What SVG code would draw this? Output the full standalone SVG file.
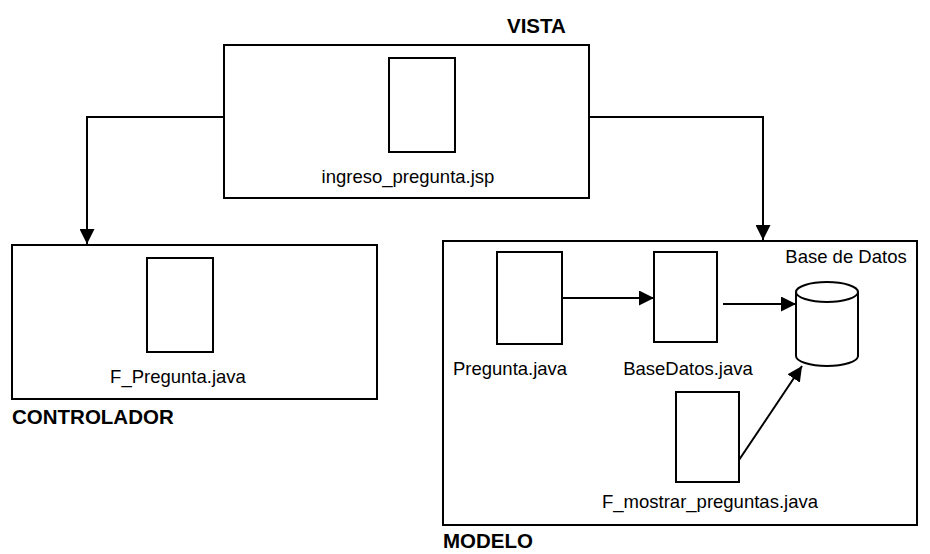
<svg xmlns="http://www.w3.org/2000/svg" width="930" height="554" viewBox="0 0 930 554">
<defs>
<marker id="ah" markerWidth="15" markerHeight="15" refX="15" refY="7.5" orient="auto" markerUnits="userSpaceOnUse">
<path d="M0,0 L15,7.5 L0,15 Z" fill="#000"/>
</marker>
<style>
.box{fill:#fff;stroke:#000;stroke-width:2}
.doc{fill:#fff;stroke:#000;stroke-width:2}
.lbl{font-family:"Liberation Sans",Arial,sans-serif;font-size:18.5px;fill:#000}
.ttl{font-family:"Liberation Sans",Arial,sans-serif;font-size:20.5px;font-weight:bold;fill:#000}
.con{fill:none;stroke:#000;stroke-width:2;marker-end:url(#ah)}
</style>
</defs>
<rect width="930" height="554" fill="#fff"/>
<g id="vista">
<rect class="box" x="224" y="45" width="365" height="153"/>
<rect class="doc" x="389" y="58" width="66" height="94"/>
<text class="lbl" x="408" y="183" text-anchor="middle">ingreso_pregunta.jsp</text>
<text class="ttl" x="507" y="33">VISTA</text>
</g>
<g id="controlador">
<rect class="box" x="12" y="245" width="365" height="154"/>
<rect class="doc" x="147" y="258" width="66" height="94"/>
<text class="lbl" x="178" y="383" text-anchor="middle">F_Pregunta.java</text>
<text class="ttl" x="12" y="424">CONTROLADOR</text>
</g>
<g id="modelo">
<rect class="box" x="443" y="241" width="474" height="284"/>
<text class="ttl" x="443" y="548">MODELO</text>
</g>
<g id="pregunta">
<rect class="doc" x="497" y="252" width="65" height="92"/>
<text class="lbl" x="453" y="375">Pregunta.java</text>
</g>
<g id="basedatos">
<rect class="doc" x="654" y="252" width="63" height="90"/>
<text class="lbl" x="688" y="375" text-anchor="middle">BaseDatos.java</text>
</g>
<g id="fmostrar">
<rect class="doc" x="676" y="392" width="63" height="90"/>
<text class="lbl" x="710" y="508" text-anchor="middle">F_mostrar_preguntas.java</text>
</g>
<g id="db">
<path d="M796,292 L796,356 A31,10 0 0 0 858,356 L858,292" fill="#fff" stroke="#000" stroke-width="2"/>
<ellipse cx="827" cy="292" rx="31" ry="10" fill="#fff" stroke="#000" stroke-width="2"/>
<text class="lbl" x="846" y="263" text-anchor="middle">Base de Datos</text>
</g>
<g id="connectors">
<path class="con" d="M224,117 L87,117 L87,244"/>
<path class="con" d="M589,117 L763,117 L763,240"/>
<path class="con" d="M562,298 L654,298"/>
<path class="con" d="M723,304 L796,304"/>
<path class="con" d="M739,460 L802,366"/>
</g>
</svg>
